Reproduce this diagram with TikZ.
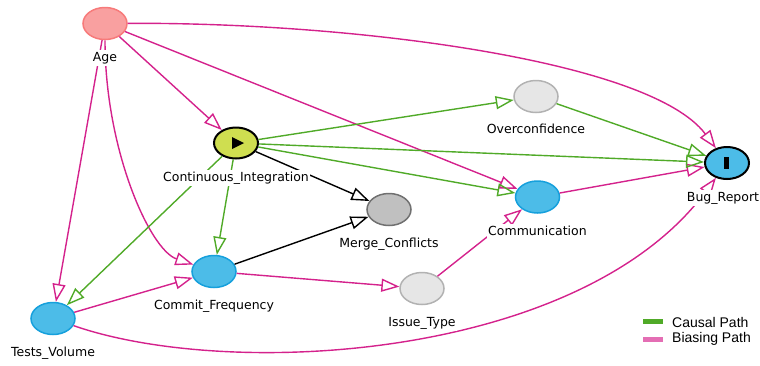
\documentclass[tikz,border=0pt]{standalone}
\usepackage{fontspec}
\setmainfont{DejaVu Sans}
\newfontfamily\legendfont{Liberation Sans}
\usetikzlibrary{arrows.meta,shapes.geometric}
\definecolor{bias}{RGB}{212,34,140}
\definecolor{causal}{RGB}{80,170,40}
\definecolor{legbias}{RGB}{228,110,180}
\definecolor{agefill}{RGB}{249,160,160}
\definecolor{agedraw}{RGB}{247,122,122}
\definecolor{expfill}{RGB}{207,222,80}
\definecolor{bluefill}{RGB}{76,188,232}
\definecolor{bluedraw}{RGB}{22,160,220}
\definecolor{lightfill}{RGB}{230,230,230}
\definecolor{lightdraw}{RGB}{178,178,178}
\definecolor{darkfill}{RGB}{192,192,192}
\definecolor{darkdraw}{RGB}{112,112,112}
\begin{document}
\begin{tikzpicture}[x=1pt,y=-1pt,
  var/.style={ellipse, minimum width=44pt, minimum height=32pt, inner sep=0pt, line width=1.5pt},
  lbl/.style={fill=white, inner sep=1.5pt, text height=9.5pt, text depth=3pt, font=\fontsize{12.5}{14}\selectfont},
  tip/.style={-{Triangle[open, length=18pt, width=13pt]}},
  biasedge/.style={draw=bias, line width=1.4pt, tip},
  causaledge/.style={draw=causal, line width=1.4pt, tip},
  plainedge/.style={draw=black, line width=1.4pt, tip},
  legbar/.style={line width=5pt}
]
\useasboundingbox (0,0) rectangle (760,365);
% nodes
\node[var, fill=agefill, draw=agedraw] (age) at (105,23.5) {};
\node[var, fill=expfill, draw=black, line width=2pt, minimum height=31pt] (ci) at (236,143) {};
\node[var, fill=lightfill, draw=lightdraw] (over) at (536,96.5) {};
\node[var, fill=bluefill, draw=black, line width=2pt] (bug) at (727,163) {};
\node[var, fill=bluefill, draw=bluedraw] (comm) at (537.5,197) {};
\node[var, fill=darkfill, draw=darkdraw] (mc) at (389,209.5) {};
\node[var, fill=bluefill, draw=bluedraw] (cf) at (214,271.5) {};
\node[var, fill=lightfill, draw=lightdraw] (it) at (422,288.5) {};
\node[var, fill=bluefill, draw=bluedraw] (tv) at (53,318.5) {};
% glyphs
\fill[black] (232,137) -- (232,149) -- (244,143) -- cycle;
\fill[black] (723.5,157) rectangle (728.5,169);
% biasing edges
\draw[biasedge] (age) .. controls (350,22) and (650,60) .. (bug);
\draw[biasedge] (age) -- (ci);
\draw[biasedge] (age) -- (comm);
\draw[biasedge] (age) -- (tv);
\draw[biasedge] (age) .. controls (105,150) and (150,250) .. (cf);
\draw[biasedge] (comm) -- (bug);
\draw[biasedge] (cf) -- (it);
\draw[biasedge] (it) -- (comm);
\draw[biasedge] (tv) -- (cf);
\draw[biasedge] (tv) .. controls (230,380) and (580,360) .. (bug);
% causal edges
\draw[causaledge] (ci) -- (over);
\draw[causaledge] (ci) -- (bug);
\draw[causaledge] (ci) -- (comm);
\draw[causaledge] (ci) -- (cf);
\draw[causaledge] (ci) -- (tv);
\draw[causaledge] (over) -- (bug);
% other edges
\draw[plainedge] (ci) -- (mc);
\draw[plainedge] (cf) -- (mc);
% labels
\node[lbl] (agel) at (105,58) {Age};
\node[lbl] (cil) at (236,178) {Continuous\_Integration};
\node[lbl] (overl) at (536,130.5) {Overconfidence};
\node[lbl] (bugl) at (723,198) {Bug\_Report};
\node[lbl] (comml) at (537.5,232) {Communication};
\node[lbl] (mcl) at (389,244) {Merge\_Conflicts};
\node[lbl] (cfl) at (214,306.5) {Commit\_Frequency};
\node[lbl] (itl) at (422,323.5) {Issue\_Type};
\node[lbl] (tvl) at (53,353.5) {Tests\_Volume};
% legend
\coordinate (g1) at (643,321.5);
\coordinate (g2) at (663,321.5);
\coordinate (p1) at (643,339.5);
\coordinate (p2) at (663,339.5);
\draw[legbar, causal] (g1) -- (g2);
\draw[legbar, legbias] (p1) -- (p2);
\node[anchor=west, inner sep=0pt, font=\legendfont\fontsize{14}{16}\selectfont] (legc) at (672,322) {Causal Path};
\node[anchor=west, inner sep=0pt, font=\legendfont\fontsize{14}{16}\selectfont] (legb) at (672,339) {Biasing Path};
\end{tikzpicture}
\end{document}
